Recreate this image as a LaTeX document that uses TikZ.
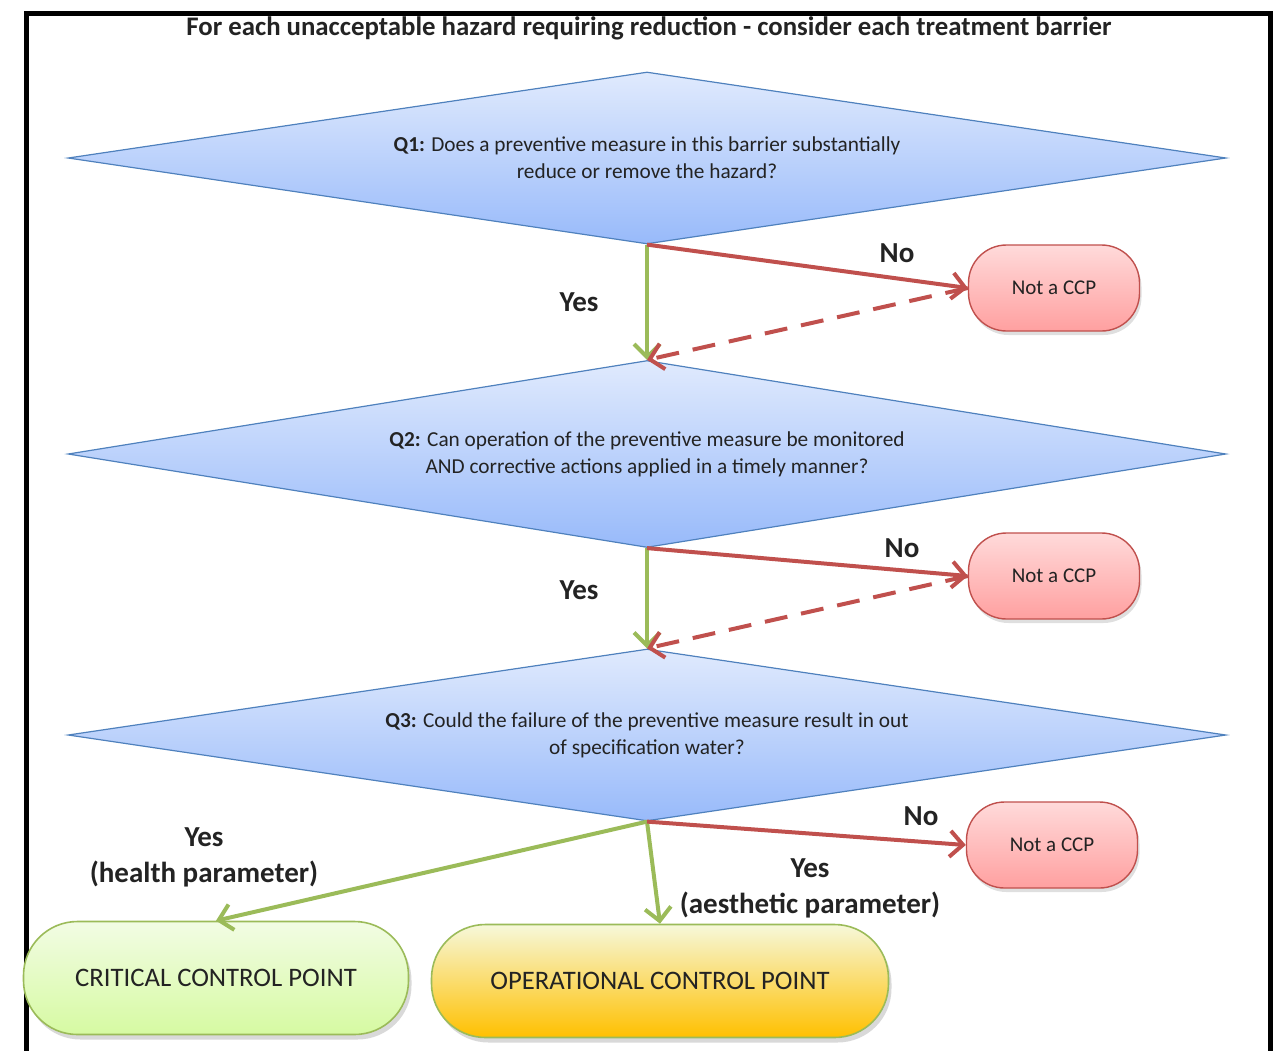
\documentclass[tikz,border=0pt]{standalone}
\usepackage{fontspec}
\setmainfont{Carlito}
\usetikzlibrary{arrows.meta, shapes.geometric, shadows}
\usepackage{xcolor}

\definecolor{qblue}{RGB}{79,129,189}
\definecolor{qtop}{RGB}{224,234,253}
\definecolor{qbot}{RGB}{152,186,250}
\definecolor{nored}{RGB}{192,80,77}
\definecolor{pinktop}{RGB}{255,218,218}
\definecolor{pinkbot}{RGB}{255,160,160}
\definecolor{yesgreen}{RGB}{155,187,89}
\definecolor{ccptop}{RGB}{242,252,228}
\definecolor{ccpbot}{RGB}{214,250,162}
\definecolor{ocptop}{RGB}{246,248,218}
\definecolor{ocpbot}{RGB}{255,192,0}
\definecolor{ink}{RGB}{35,35,35}

\begin{document}
\begin{tikzpicture}[x=1pt, y=-1pt, every node/.style={text=ink},
    question/.style={diamond, aspect=6.73, draw=qblue, line width=1.2pt, top color=qtop, bottom color=qbot,
      minimum width=1158pt, minimum height=172pt, inner sep=0pt, align=center,
      font=\fontsize{21.3}{27}\selectfont},
    notccp/.style={rectangle, rounded corners=38pt, draw=nored, line width=1.4pt,
      top color=pinktop, bottom color=pinkbot, minimum width=171pt, minimum height=86pt,
      font=\fontsize{21}{25}\selectfont, drop shadow={opacity=0.25, shadow xshift=2pt, shadow yshift=-4pt}},
    outcome/.style={rectangle, rounded corners=54pt, draw=yesgreen, line width=1.6pt,
      minimum height=113pt, font=\fontsize{26.7}{30}\selectfont,
      drop shadow={opacity=0.3, shadow xshift=3pt, shadow yshift=-5pt}},
    lbl/.style={font=\bfseries\fontsize{29}{36}\selectfont, align=center},
    yesarrow/.style={draw=yesgreen, line width=4pt, -{Straight Barb[length=13pt, width=26pt]}},
    noarrow/.style={draw=nored, line width=4pt, -{Straight Barb[length=13pt, width=26pt]}},
    backarrow/.style={noarrow, dash pattern=on 23pt off 14pt}]
  \useasboundingbox (0,0) rectangle (1274,1050);

  % frame and heading
  \draw[line width=5pt] (26,1052) -- (26,13) -- (1270,13) -- (1270,1052);
  \node[font=\bfseries\fontsize{26.8}{30}\selectfont] (title) at (649,28)
    {For each unacceptable hazard requiring reduction - consider each treatment barrier};

  % questions
  \node[question] (q1) at (647,158)
    {\textbf{Q1:} Does a preventive measure in this barrier substantially\\reduce or remove the hazard?};
  \node[question, minimum height=187pt] (q2) at (647,454)
    {\textbf{Q2:} Can operation of the preventive measure be monitored\\AND corrective actions applied in a timely manner?};
  \node[question] (q3) at (647,735)
    {\textbf{Q3:} Could the failure of the preventive measure result in out\\of specification water?};

  % not a CCP
  \foreach \n/\xp/\yp in {1/1054/288, 2/1054/576, 3/1052/845} {
    \node[notccp] (n\n) at (\xp,\yp) {Not a CCP};
  }

  % outcomes
  \node[outcome, top color=ccptop, bottom color=ccpbot, minimum width=385pt] (ccp) at (216,978)
    {CRITICAL CONTROL POINT};
  \node[outcome, top color=ocptop, bottom color=ocpbot, minimum width=457pt] (ocp) at (660,981)
    {OPERATIONAL CONTROL POINT};

  % yes edges
  \draw[yesarrow] (q1.south) -- (q2.north);
  \draw[yesarrow] (q2.south) -- (q3.north);
  \draw[yesarrow] (q3.south) -- (ccp.north);
  \draw[yesarrow] (q3.south) -- (ocp.north);

  % no edges
  \foreach \i/\j in {1/2, 2/3} {
    \draw[noarrow] (q\i.south) -- (n\i.west);
    \draw[backarrow] (n\i.west) -- (q\j.north);
  }
  \draw[noarrow] (q3.south) -- (n3.west);

  % labels
  \node[lbl] (no1) at (897,253) {No};
  \node[lbl] (no2) at (902,548) {No};
  \node[lbl] (no3) at (921,816) {No};
  \node[lbl] (yes1) at (579,302) {Yes};
  \node[lbl] (yes2) at (579,590) {Yes};
  \node[lbl] (yes3) at (204,857) {Yes\\(health parameter)};
  \node[lbl] (yes4) at (810,888) {Yes\\(aesthetic parameter)};
\end{tikzpicture}
\end{document}
